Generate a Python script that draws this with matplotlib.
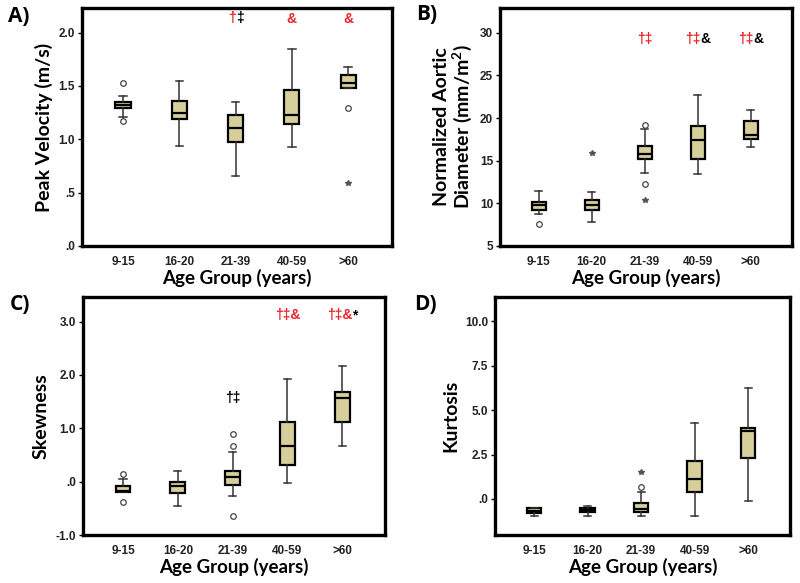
import matplotlib
matplotlib.use("Agg")
import matplotlib.pyplot as plt
from matplotlib.offsetbox import TextArea, HPacker, AnnotationBbox

plt.rcParams['font.family'] = ['Liberation Sans', 'DejaVu Sans']
plt.rcParams['mathtext.default'] = 'regular'

groups = ['9-15', '16-20', '21-39', '40-59', '>60']
RED = '#e8262d'
BOX = '#d6cf9c'

# --- A) peak velocity (m/s)
pv_lo = [1.21, 0.94, 0.66, 0.93, 1.48]
pv_q1 = [1.29, 1.19, 0.97, 1.14, 1.48]
pv_med = [1.32, 1.25, 1.11, 1.23, 1.53]
pv_q3 = [1.35, 1.36, 1.23, 1.46, 1.60]
pv_hi = [1.41, 1.55, 1.35, 1.85, 1.68]
pv_circ = [[1.53, 1.17], [], [], [], [1.29]]
pv_star = [[], [], [], [], [0.59]]
pv_marks = [[], [], [('†', RED), ('‡', 'black')], [('&', RED)], [('&', RED)]]
pv_mark_y = [None, None, 2.14, 2.13, 2.13]

# --- B) normalized aortic diameter (mm/m2)
ad_lo = [8.8, 7.8, 13.6, 13.45, 16.6]
ad_q1 = [9.19, 9.26, 15.25, 15.2, 17.6]
ad_med = [9.85, 9.85, 15.84, 17.4, 18.07]
ad_q3 = [10.16, 10.36, 16.74, 19.1, 19.67]
ad_hi = [11.4, 11.3, 18.77, 22.7, 21.0]
ad_circ = [[7.58], [], [19.24, 12.27], [], []]
ad_star = [[], [15.9], [10.4], [], []]
ad_marks = [[], [], [('†‡', RED)], [('†‡', RED), ('&', 'black')],
            [('†‡', RED), ('&', 'black')]]
ad_mark_y = [None, None, 29.3, 29.3, 29.3]

# --- C) skewness
sk_lo = [-0.2, -0.46, -0.26, -0.02, 0.66]
sk_q1 = [-0.2, -0.22, -0.06, 0.32, 1.11]
sk_med = [-0.18, -0.09, 0.09, 0.675, 1.56]
sk_q3 = [-0.08, -0.01, 0.2, 1.11, 1.68]
sk_hi = [0.05, 0.19, 0.56, 1.92, 2.16]
sk_circ = [[0.14, -0.39], [], [0.89, 0.67, -0.64], [], []]
sk_star = [[], [], [], [], []]
sk_marks = [[], [], [('†‡', 'black')], [('†‡&', RED)],
            [('†‡&', RED), ('*', 'black')]]
sk_mark_y = [None, None, 1.56, 3.12, 3.12]

# --- D) kurtosis
ku_lo = [-0.98, -0.96, -0.98, -0.98, -0.09]
ku_q1 = [-0.81, -0.73, -0.75, 0.4, 2.29]
ku_med = [-0.66, -0.62, -0.58, 1.15, 3.82]
ku_q3 = [-0.53, -0.53, -0.24, 2.14, 3.97]
ku_hi = [-0.49, -0.38, 0.4, 4.29, 6.22]
ku_circ = [[], [], [0.68], [], []]
ku_star = [[], [], [1.54], [], []]
ku_marks = [[], [], [], [], []]
ku_mark_y = [None] * 5


def panel(ax, lo, q1, med, q3, hi, circ, star, marks, mark_y, ylim, yticks,
          yticklabels, ylabel):
    stats = []
    for i in range(len(groups)):
        stats.append(dict(whislo=lo[i], q1=q1[i], med=med[i], q3=q3[i],
                          whishi=hi[i], fliers=[]))
    pos = list(range(1, len(groups) + 1))
    ax.bxp(stats, positions=pos, widths=0.27, capwidths=0.13, patch_artist=True,
           showfliers=False,
           boxprops=dict(facecolor=BOX, edgecolor='black', linewidth=1.6),
           medianprops=dict(color='black', linewidth=1.6),
           whiskerprops=dict(color='#333333', linewidth=1.1),
           capprops=dict(color='#333333', linewidth=1.1))
    for i in range(len(groups)):
        if circ[i]:
            ax.plot([pos[i]] * len(circ[i]), circ[i], 'o', ms=4, mfc='white',
                    mec='#444444', mew=0.9)
        if star[i]:
            ax.plot([pos[i]] * len(star[i]), star[i], '*', ms=4,
                    color='#555555')
        if marks[i]:
            parts = [TextArea(t, textprops=dict(color=c, fontsize=10,
                                                 fontweight='bold'))
                     for t, c in marks[i]]
            box = HPacker(children=parts, pad=0, sep=0, align='baseline')
            ab = AnnotationBbox(box, (pos[i], mark_y[i]), frameon=False,
                                box_alignment=(0.5, 0.5), pad=0)
            ax.add_artist(ab)
    ax.set_xlim(0.27, 5.78)
    ax.set_ylim(*ylim)
    ax.set_xticks(pos)
    ax.set_xticklabels(groups)
    ax.set_yticks(yticks)
    ax.set_yticklabels(yticklabels)
    ax.tick_params(axis='x', length=0, pad=7)
    ax.tick_params(axis='y', length=3, width=1, direction='out', pad=2)
    for lab in ax.get_xticklabels() + ax.get_yticklabels():
        lab.set_fontsize(8.5)
        lab.set_fontweight('bold')
        lab.set_color('#222222')
    for s in ax.spines.values():
        s.set_linewidth(2.4)
    ax.set_xlabel('Age Group (years)', fontsize=13.5, fontweight='bold',
                  family=['Lato', 'DejaVu Sans'], labelpad=1)
    ax.set_ylabel(ylabel, fontsize=14, fontweight='bold',
                  family=['Lato', 'DejaVu Sans'], linespacing=1.05)


fig = plt.figure(figsize=(8, 5.83), dpi=100)
W, H = 800.0, 583.0


def add_axes(l, r, t, b):
    return fig.add_axes([l / W, 1 - b / H, (r - l) / W, (b - t) / H])


axA = add_axes(82, 392, 8, 246)
axB = add_axes(500, 792, 8, 246)
axC = add_axes(83, 385, 297, 535)
axD = add_axes(495, 790, 297, 535)

panel(axA, pv_lo, pv_q1, pv_med, pv_q3, pv_hi, pv_circ, pv_star, pv_marks,
      pv_mark_y, (0, 2.23), [0, 0.5, 1.0, 1.5, 2.0],
      ['.0', '.5', '1.0', '1.5', '2.0'], 'Peak Velocity (m/s)')
panel(axB, ad_lo, ad_q1, ad_med, ad_q3, ad_hi, ad_circ, ad_star, ad_marks,
      ad_mark_y, (5, 32.9), [5, 10, 15, 20, 25, 30],
      ['5', '10', '15', '20', '25', '30'],
      'Normalized Aortic\nDiameter (mm/m$^2$)')
panel(axC, sk_lo, sk_q1, sk_med, sk_q3, sk_hi, sk_circ, sk_star, sk_marks,
      sk_mark_y, (-1.0, 3.46), [-1, 0, 1, 2, 3],
      ['-1.0', '.0', '1.0', '2.0', '3.0'], 'Skewness')
panel(axD, ku_lo, ku_q1, ku_med, ku_q3, ku_hi, ku_circ, ku_star, ku_marks,
      ku_mark_y, (-2.03, 11.37), [0, 2.5, 5, 7.5, 10],
      ['.0', '2.5', '5.0', '7.5', '10.0'], 'Kurtosis')

# panel letters, placed in figure pixels
for letter, px, py in [('A)', 8, 17), ('B)', 416, 15), ('C)', 10, 305),
                       ('D)', 414, 305)]:
    fig.text(px / W, 1 - py / H, letter, fontsize=15, fontweight='bold',
             family=['Open Sans', 'DejaVu Sans'], ha='left', va='center')

fig.savefig('out.png', dpi=100)
